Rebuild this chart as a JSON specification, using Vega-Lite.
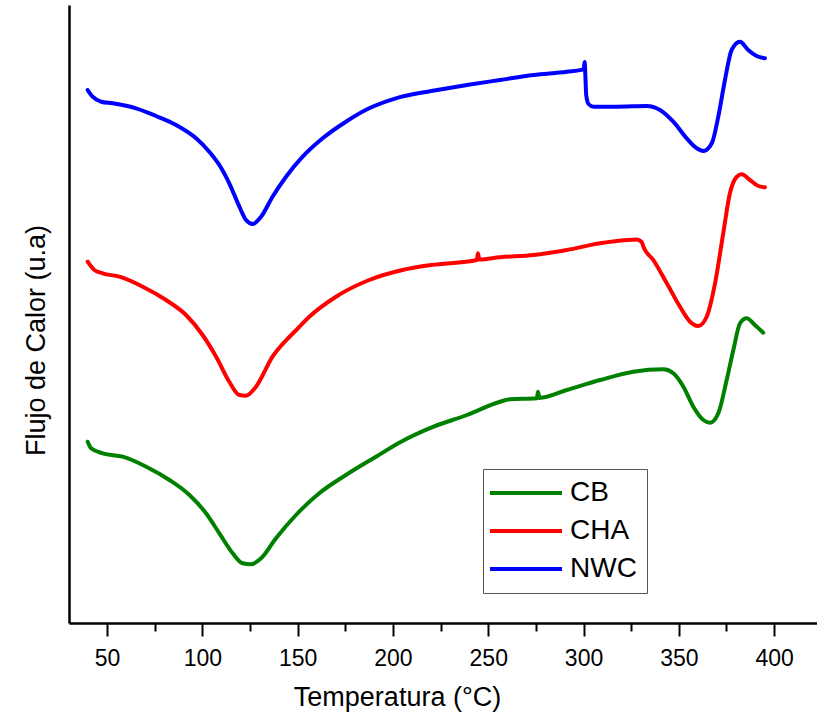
{
  "$schema": "https://vega.github.io/schema/vega-lite/v6.json",
  "width": 748,
  "height": 618,
  "autosize": {"type": "none"},
  "padding": {"left": 69, "top": 5, "right": 0, "bottom": 96},
  "background": "white",
  "config": {
    "view": {"stroke": null},
    "font": "Liberation Sans"
  },
  "data": {
    "values": [
      {"s": "NWC", "t": 39.8, "f": 533},
      {"s": "NWC", "t": 42.4, "f": 526.3},
      {"s": "NWC", "t": 46.9, "f": 521.3},
      {"s": "NWC", "t": 52.9, "f": 519.7},
      {"s": "NWC", "t": 65.2, "f": 514.7},
      {"s": "NWC", "t": 75.7, "f": 507},
      {"s": "NWC", "t": 86.2, "f": 498},
      {"s": "NWC", "t": 96.7, "f": 484.7},
      {"s": "NWC", "t": 103.6, "f": 471.3},
      {"s": "NWC", "t": 108.9, "f": 458},
      {"s": "NWC", "t": 114.1, "f": 439.7},
      {"s": "NWC", "t": 119.4, "f": 416.3},
      {"s": "NWC", "t": 122.9, "f": 403},
      {"s": "NWC", "t": 126.4, "f": 399},
      {"s": "NWC", "t": 130.8, "f": 406.3},
      {"s": "NWC", "t": 136.8, "f": 426.3},
      {"s": "NWC", "t": 143.9, "f": 446.3},
      {"s": "NWC", "t": 152.6, "f": 466.3},
      {"s": "NWC", "t": 163.1, "f": 484.7},
      {"s": "NWC", "t": 175.3, "f": 501.3},
      {"s": "NWC", "t": 187.5, "f": 514.7},
      {"s": "NWC", "t": 201.5, "f": 524.7},
      {"s": "NWC", "t": 220.0, "f": 532},
      {"s": "NWC", "t": 238.8, "f": 538},
      {"s": "NWC", "t": 256.2, "f": 543},
      {"s": "NWC", "t": 273.7, "f": 548},
      {"s": "NWC", "t": 291.2, "f": 551.3},
      {"s": "NWC", "t": 300.0, "f": 553.7},
      {"s": "NWC", "t": 300.6, "f": 561},
      {"s": "NWC", "t": 300.9, "f": 550},
      {"s": "NWC", "t": 301.4, "f": 528},
      {"s": "NWC", "t": 302.6, "f": 519},
      {"s": "NWC", "t": 305.2, "f": 516.3},
      {"s": "NWC", "t": 317.4, "f": 516.3},
      {"s": "NWC", "t": 333.2, "f": 517},
      {"s": "NWC", "t": 340.1, "f": 513},
      {"s": "NWC", "t": 347.1, "f": 501.3},
      {"s": "NWC", "t": 354.1, "f": 484.7},
      {"s": "NWC", "t": 359.4, "f": 474.7},
      {"s": "NWC", "t": 362.9, "f": 472},
      {"s": "NWC", "t": 367.3, "f": 479.7},
      {"s": "NWC", "t": 370.7, "f": 506.3},
      {"s": "NWC", "t": 374.2, "f": 543},
      {"s": "NWC", "t": 377.7, "f": 573},
      {"s": "NWC", "t": 382.1, "f": 581.3},
      {"s": "NWC", "t": 386.4, "f": 573},
      {"s": "NWC", "t": 390.8, "f": 567},
      {"s": "NWC", "t": 395.2, "f": 564.7},

      {"s": "CHA", "t": 39.8, "f": 361.3},
      {"s": "CHA", "t": 43.3, "f": 353},
      {"s": "CHA", "t": 47.7, "f": 349.7},
      {"s": "CHA", "t": 56.4, "f": 346.3},
      {"s": "CHA", "t": 68.7, "f": 336.3},
      {"s": "CHA", "t": 80.9, "f": 323},
      {"s": "CHA", "t": 91.4, "f": 308},
      {"s": "CHA", "t": 100.1, "f": 288},
      {"s": "CHA", "t": 107.2, "f": 266.3},
      {"s": "CHA", "t": 114.1, "f": 241.3},
      {"s": "CHA", "t": 119.4, "f": 228},
      {"s": "CHA", "t": 122.9, "f": 227.3},
      {"s": "CHA", "t": 128.1, "f": 236.3},
      {"s": "CHA", "t": 136.8, "f": 266.3},
      {"s": "CHA", "t": 145.6, "f": 286},
      {"s": "CHA", "t": 148.2, "f": 291},
      {"s": "CHA", "t": 156.1, "f": 306.3},
      {"s": "CHA", "t": 170.1, "f": 326.3},
      {"s": "CHA", "t": 187.5, "f": 343},
      {"s": "CHA", "t": 205.0, "f": 353},
      {"s": "CHA", "t": 220.0, "f": 358},
      {"s": "CHA", "t": 244.0, "f": 363},
      {"s": "CHA", "t": 244.6, "f": 369.7},
      {"s": "CHA", "t": 245.3, "f": 363.5},
      {"s": "CHA", "t": 256.2, "f": 365.7},
      {"s": "CHA", "t": 273.7, "f": 368},
      {"s": "CHA", "t": 291.2, "f": 373},
      {"s": "CHA", "t": 308.7, "f": 379.7},
      {"s": "CHA", "t": 322.7, "f": 383},
      {"s": "CHA", "t": 327.9, "f": 383.5},
      {"s": "CHA", "t": 330.5, "f": 381},
      {"s": "CHA", "t": 331.4, "f": 376.3},
      {"s": "CHA", "t": 336.6, "f": 363},
      {"s": "CHA", "t": 343.7, "f": 339.7},
      {"s": "CHA", "t": 350.6, "f": 316.3},
      {"s": "CHA", "t": 355.9, "f": 301.3},
      {"s": "CHA", "t": 360.2, "f": 297},
      {"s": "CHA", "t": 364.6, "f": 306.3},
      {"s": "CHA", "t": 369.0, "f": 339.7},
      {"s": "CHA", "t": 373.3, "f": 389.7},
      {"s": "CHA", "t": 376.8, "f": 429.7},
      {"s": "CHA", "t": 380.4, "f": 446.3},
      {"s": "CHA", "t": 383.0, "f": 448.7},
      {"s": "CHA", "t": 387.3, "f": 443},
      {"s": "CHA", "t": 391.7, "f": 437},
      {"s": "CHA", "t": 395.2, "f": 435.7},

      {"s": "CB", "t": 39.8, "f": 181.3},
      {"s": "CB", "t": 41.6, "f": 174.7},
      {"s": "CB", "t": 47.7, "f": 169.7},
      {"s": "CB", "t": 58.2, "f": 166.3},
      {"s": "CB", "t": 70.5, "f": 156.3},
      {"s": "CB", "t": 82.7, "f": 143},
      {"s": "CB", "t": 93.2, "f": 128},
      {"s": "CB", "t": 101.9, "f": 109.7},
      {"s": "CB", "t": 108.9, "f": 89.7},
      {"s": "CB", "t": 115.9, "f": 69.7},
      {"s": "CB", "t": 121.1, "f": 59.7},
      {"s": "CB", "t": 125.5, "f": 58.7},
      {"s": "CB", "t": 130.8, "f": 64.7},
      {"s": "CB", "t": 138.6, "f": 84.7},
      {"s": "CB", "t": 149.1, "f": 108},
      {"s": "CB", "t": 161.3, "f": 129.7},
      {"s": "CB", "t": 175.3, "f": 148},
      {"s": "CB", "t": 191.1, "f": 166.3},
      {"s": "CB", "t": 204.0, "f": 181},
      {"s": "CB", "t": 221.3, "f": 196.3},
      {"s": "CB", "t": 238.8, "f": 208},
      {"s": "CB", "t": 256.2, "f": 221.3},
      {"s": "CB", "t": 261.5, "f": 223.7},
      {"s": "CB", "t": 275.5, "f": 224.7},
      {"s": "CB", "t": 276.1, "f": 231.3},
      {"s": "CB", "t": 276.8, "f": 225},
      {"s": "CB", "t": 291.2, "f": 233},
      {"s": "CB", "t": 308.7, "f": 243},
      {"s": "CB", "t": 326.1, "f": 251.3},
      {"s": "CB", "t": 341.9, "f": 253.7},
      {"s": "CB", "t": 347.1, "f": 249.7},
      {"s": "CB", "t": 352.4, "f": 236.3},
      {"s": "CB", "t": 357.6, "f": 216.3},
      {"s": "CB", "t": 362.9, "f": 203},
      {"s": "CB", "t": 366.4, "f": 200.3},
      {"s": "CB", "t": 370.7, "f": 209.7},
      {"s": "CB", "t": 375.1, "f": 243},
      {"s": "CB", "t": 378.6, "f": 273},
      {"s": "CB", "t": 382.1, "f": 299.7},
      {"s": "CB", "t": 385.6, "f": 304.7},
      {"s": "CB", "t": 389.9, "f": 298},
      {"s": "CB", "t": 394.3, "f": 290.3}
    ]
  },
  "mark": {"type": "line", "strokeWidth": 4, "strokeJoin": "round", "strokeCap": "round", "interpolate": "monotone"},
  "encoding": {
    "x": {
      "field": "t",
      "type": "quantitative",
      "scale": {"domain": [30, 422.5], "nice": false, "zero": false},
      "axis": {
        "title": "Temperatura (°C)",
        "values": [50, 75, 100, 125, 150, 175, 200, 225, 250, 275, 300, 325, 350, 375, 400],
        "labelExpr": "datum.value % 50 === 0 ? datum.label : ''",
        "tickSize": {"condition": {"test": "datum.value % 50 === 0", "value": 13}, "value": 8},
        "tickWidth": 2,
        "tickColor": "black",
        "domainColor": "black",
        "domainWidth": 2.5,
        "grid": false,
        "labelFontSize": 23,
        "labelColor": "black",
        "labelPadding": 11,
        "labelFlush": false,
        "labelOverlap": false,
        "titleFontSize": 27,
        "titleFontWeight": "normal",
        "titleColor": "black",
        "titleX": 328,
        "titleY": 82,
        "titleBaseline": "alphabetic",
        "titleAnchor": null,
        "titleAlign": "center"
      }
    },
    "y": {
      "field": "f",
      "type": "quantitative",
      "scale": {"domain": [0, 618], "nice": false, "zero": false},
      "axis": {
        "title": "Flujo de Calor (u.a)",
        "ticks": false,
        "labels": false,
        "grid": false,
        "domainColor": "black",
        "domainWidth": 2.5,
        "titleFontSize": 27,
        "titleFontWeight": "normal",
        "titleColor": "black",
        "titleX": -25,
        "titleY": 335,
        "titleBaseline": "alphabetic",
        "titleAngle": -90,
        "titleAlign": "center"
      }
    },
    "color": {
      "field": "s",
      "type": "nominal",
      "scale": {"domain": ["CB", "CHA", "NWC"], "range": ["#008000", "#ff0000", "#0000ff"]},
      "legend": {
        "title": null,
        "orient": "none",
        "legendX": 414,
        "legendY": 464,
        "symbolType": "M-3,0H3",
        "symbolSize": 576,
        "symbolOffset": 19,
        "symbolStrokeWidth": 4,
        "labelFontSize": 28,
        "labelColor": "black",
        "labelOffset": 30,
        "padding": 10,
        "rowPadding": 10,
        "strokeColor": "#555555",
        "fillColor": "white",
        "cornerRadius": 0
      }
    }
  }
}
